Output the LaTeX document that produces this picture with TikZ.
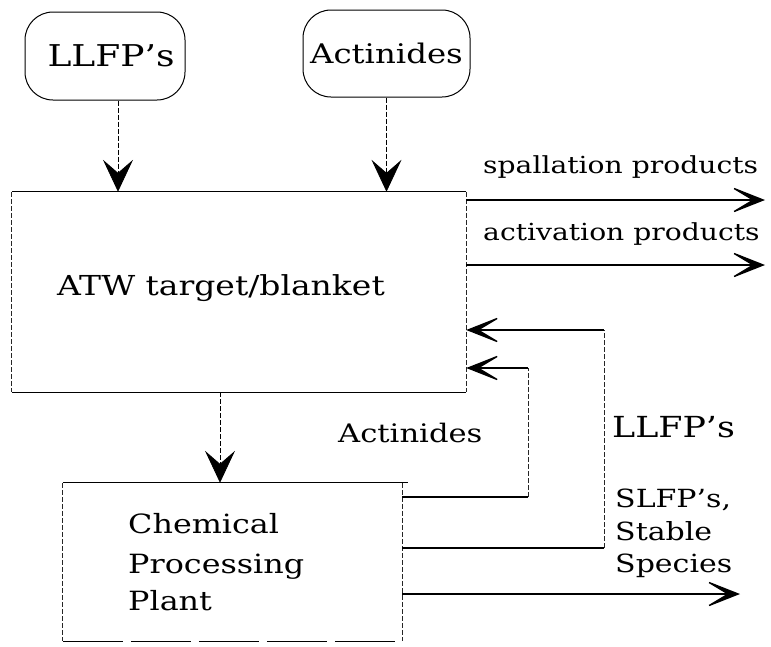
\documentclass[tikz,border=0pt]{standalone}
\usepackage{fontspec}
\setmainfont{DejaVu Serif}[FakeStretch=1.2]
\usetikzlibrary{arrows.meta}
\begin{document}
\begin{tikzpicture}[x=1pt,y=-1pt,
  hline/.style={line width=1.3pt},
  vline/.style={line width=0.8pt, black!85, dash pattern=on 5pt off 2pt},
  feed/.style={draw, line width=1pt, rounded corners=28pt, inner sep=0pt},
  plainbox/.style={inner sep=0pt},
  lbl/.style={inner sep=0pt, anchor=base west},
  downhead/.style={-{Stealth[length=32pt,width=30pt,inset=13pt]}},
  sidehead/.style={-{Stealth[length=38pt,width=30pt,inset=25pt]}},
]
\useasboundingbox (0,0) rectangle (771,646);

% feed streams at the top
\node[feed, minimum width=160pt, minimum height=88pt] (llfp) at (105,56)
  {\fontsize{30}{36}\selectfont\hspace*{12pt}LLFP's};
\node[feed, minimum width=167pt, minimum height=87pt] (act) at (386.5,53.5)
  {\fontsize{27}{32}\selectfont Actinides};

% target/blanket block: solid horizontal edges, broken vertical edges
\node[plainbox, minimum width=454pt, minimum height=200pt] (atw) at (239,292) {};
\draw[hline] (atw.north west) -- (atw.north east);
\draw[hline] (atw.south west) -- (atw.south east);
\draw[vline] (atw.north west) -- (atw.south west);
\draw[vline] (atw.north east) -- (atw.south east);
\node[lbl] (atwtext) at (57,295) {\fontsize{27.5}{33}\selectfont ATW target/blanket};

% chemical processing plant
\node[plainbox, minimum width=339pt, minimum height=158pt] (chem) at (232.5,562) {};
\draw[hline] (chem.north west) -- ([xshift=6pt]chem.north east);
\draw[hline, dash pattern=on 60pt off 8pt] (chem.south west) -- (chem.south east);
\draw[vline] (chem.north west) -- (chem.south west);
\draw[vline] (chem.north east) -- (chem.south east);
\node[lbl] (chem1) at (128,533) {\fontsize{26.5}{32}\selectfont Chemical};
\node[lbl] (chem2) at (128,573) {\fontsize{26.5}{32}\selectfont Processing};
\node[lbl] (chem3) at (128,610) {\fontsize{26.5}{32}\selectfont Plant};

% feeds into the target
\draw[vline, downhead, black] ([xshift=13pt]llfp.south) -- ([xshift=13pt]llfp.south |- atw.north);
\draw[vline, downhead, black] (act.south) -- (act.south |- atw.north);

% target to chemical plant
\coordinate (dn) at (220,0);
\draw[vline, downhead, black] (atw.south -| dn) -- (chem.north -| dn);

% products leaving the target
\coordinate (spend) at (765,200);
\coordinate (acend) at (765,265);
\draw[hline, sidehead] (atw.east |- spend) -- (spend);
\draw[hline, sidehead] (atw.east |- acend) -- (acend);
\node[lbl] (sptext) at (483,173) {\fontsize{23.5}{28}\selectfont spallation products};
\node[lbl] (actext) at (483,240) {\fontsize{23.5}{28}\selectfont activation products};

% recycled LLFP's
\coordinate (r1) at (604,330);
\coordinate (r1b) at (604,548);
\draw[hline] (chem.east |- r1b) -- (r1b);
\draw[vline] (r1b) -- (r1);
\draw[hline, sidehead] (r1) -- (atw.east |- r1);

% recycled actinides
\coordinate (r2) at (528,368);
\coordinate (r2b) at (528,497);
\draw[hline] (chem.east |- r2b) -- (r2b);
\draw[vline] (r2b) -- (r2);
\draw[hline, sidehead] (r2) -- (atw.east |- r2);

% waste stream
\coordinate (wend) at (740,594);
\draw[hline, sidehead] (chem.east |- wend) -- (wend);

% stream labels
\node[lbl] (ractext) at (338,442) {\fontsize{25.5}{30}\selectfont Actinides};
\node[lbl] (rllfp) at (612,437) {\fontsize{29}{34}\selectfont LLFP's};
\node[lbl] (slfp) at (615,507) {\fontsize{25}{30}\selectfont SLFP's,};
\node[lbl] (stab) at (615,540) {\fontsize{25}{30}\selectfont Stable};
\node[lbl] (spec) at (615,572) {\fontsize{25}{30}\selectfont Species};
\end{tikzpicture}
\end{document}
